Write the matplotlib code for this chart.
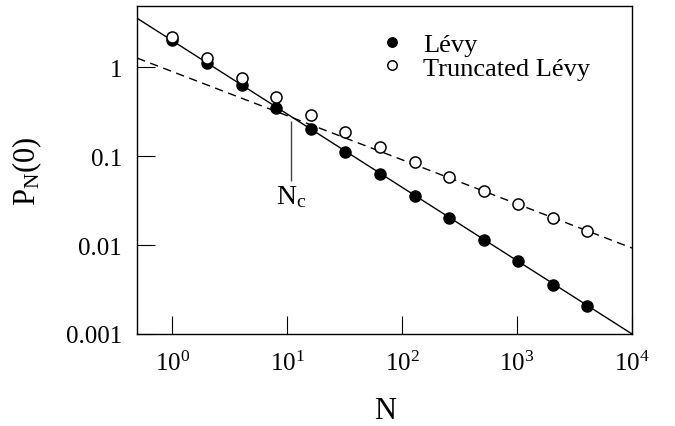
import numpy as np
import matplotlib
matplotlib.use("Agg")
import matplotlib.pyplot as plt

plt.rcParams['font.family'] = ['Liberation Serif', 'DejaVu Serif']
plt.rcParams['mathtext.fontset'] = 'custom'
plt.rcParams['mathtext.rm'] = 'Liberation Serif'
plt.rcParams['mathtext.it'] = 'Liberation Serif:italic'

# Data
N = [1, 2, 4, 8, 16, 32, 64, 128, 256, 512, 1024, 2048, 4096]
levy = [2.03, 1.13, 0.633, 0.352, 0.201, 0.112, 0.0628, 0.0358, 0.0201,
        0.0114, 0.0066, 0.00355, 0.00206]
truncated = [2.21, 1.29, 0.766, 0.463, 0.291, 0.188, 0.127, 0.0857, 0.0586,
             0.0407, 0.0289, 0.0201, 0.0144]

# fitted lines (end points)
levy_fit_x = [0.495, 1e4]
levy_fit_y = [3.56, 0.001]
trunc_fit_x = [0.495, 1e4]
trunc_fit_y = [1.27, 0.00927]

# crossover marker
Nc = 10.8
nc_line_y = [0.052, 0.25]
nc_label_y = 0.036

yticks = [0.001, 0.01, 0.1, 1]
ytick_labels = ['0.001', '0.01', '0.1', '1']

fig = plt.figure(figsize=(6.75, 4.27), dpi=100)
ax = fig.add_axes([0.2034, 0.2155, 0.7329, 0.768])

ax.plot(levy_fit_x, levy_fit_y, color='black', lw=1.0)
ax.plot(trunc_fit_x, trunc_fit_y, color='black', lw=1.0, ls=(0, (6, 4)))
ax.plot(N, levy, 'o', ms=8, color='black', mec='black', label='Lévy')
ax.plot(N, truncated, 'o', ms=8, mfc='white', mec='black', mew=1.1,
        label='Truncated Lévy')

ax.vlines(Nc, nc_line_y[0], nc_line_y[1], color='#444444', lw=1.0)
ax.text(Nc, nc_label_y, r'$\mathrm{N_c}$', ha='center', va='center', fontsize=20)

ax.set_xscale('log')
ax.set_yscale('log')
ax.set_xlim(0.495, 1e4)
ax.set_ylim(0.001, 4.9)

ax.set_xticks([1, 10, 100, 1000, 10000])
ax.set_yticks(yticks)
ax.set_yticklabels(ytick_labels)
ax.minorticks_off()
ax.tick_params(direction='in', length=13, width=0.8, labelsize=18)
ax.tick_params(axis='x', pad=12)
ax.tick_params(axis='y', pad=11)

for s in ax.spines.values():
    s.set_linewidth(1.0)

ax.set_xlabel('N', fontsize=22, labelpad=15)
ax.set_ylabel(r'$\mathrm{P_N(0)}$', fontsize=22, labelpad=16)

ax.legend(loc='upper left', bbox_to_anchor=(0.45, 0.975), frameon=False,
          fontsize=19, markerscale=0.85, handlelength=1.0,
          handletextpad=0.7, labelspacing=0.0, borderaxespad=0.3)

fig.savefig('out.png', dpi=100)
